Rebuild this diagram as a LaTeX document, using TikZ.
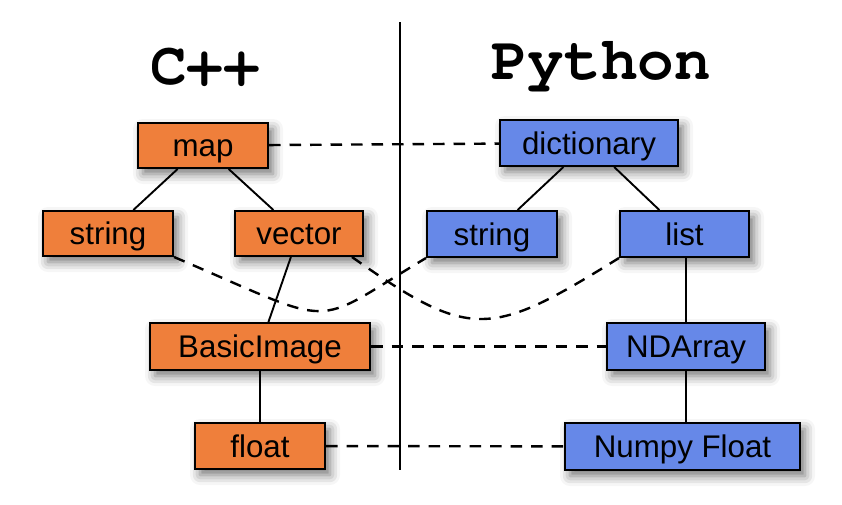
\documentclass[tikz,border=0pt]{standalone}
\usepackage{fontspec}
\setmainfont{Liberation Sans}
\newfontfamily\titlefont{TeX Gyre Cursor}
\usetikzlibrary{shadows.blur}
\definecolor{cppfill}{RGB}{239,127,59}
\definecolor{pyfill}{RGB}{102,136,232}
\tikzset{
  box/.style={draw=black, line width=2pt, inner sep=0pt,
    font=\fontsize{31.3}{36}\selectfont, text height=22.4pt, text depth=0pt,
    blur shadow={shadow xshift=5pt, shadow yshift=-6pt, shadow blur radius=10pt, shadow opacity=55}},
  cppbox/.style={box, fill=cppfill},
  pybox/.style={box, fill=pyfill},
  title/.style={font=\titlefont\bfseries\fontsize{61}{66}\selectfont, inner sep=0pt},
  link/.style={line width=1.9pt},
  corr/.style={line width=2.4pt, dash pattern=on 11.5pt off 9pt},
}
\begin{document}
\begin{tikzpicture}[x=1pt,y=-1pt]
\useasboundingbox (0,0) rectangle (842,504);
% titles
\node[title] (tcpp) at (205,67) {C++};
\node[title] (tpy) at (601,67) {Python};
% divider
\coordinate (vtop) at (400,22);
\coordinate (vbot) at (400,470);
\draw[line width=1.9pt] (vtop) -- (vbot);
% C++ nodes
\node[cppbox, minimum width=130pt, minimum height=45pt] (map) at (203,145.5) {map};
\node[cppbox, minimum width=130pt, minimum height=45pt] (strL) at (108,233.5) {string};
\node[cppbox, minimum width=128pt, minimum height=45pt] (vec) at (299,233.5) {vector};
\node[cppbox, minimum width=220pt, minimum height=47pt] (bimg) at (260,346.5) {BasicImage};
\node[cppbox, minimum width=130pt, minimum height=46pt] (flt) at (260,446) {float};
% Python nodes
\node[pybox, minimum width=178pt, minimum height=46pt] (dict) at (589,143) {dictionary};
\node[pybox, minimum width=130pt, minimum height=46pt] (strR) at (492,234) {string};
\node[pybox, minimum width=129pt, minimum height=46pt] (lst) at (684.5,234) {list};
\node[pybox, minimum width=158pt, minimum height=47pt] (nda) at (686,346.5) {NDArray};
\node[pybox, minimum width=235pt, minimum height=47pt] (npf) at (682.5,446.5) {Numpy Float};
% tree links
\draw[link] (map) -- (strL);
\draw[link] (map) -- (vec);
\draw[link] (vec) -- (bimg);
\draw[link] (bimg) -- (flt);
\draw[link] (dict) -- (strR);
\draw[link] (dict) -- (lst);
\draw[link] (lst.south -| nda.north) -- (nda.north);
\draw[link] (nda) -- (npf.north -| nda.south);
% correspondences
\draw[corr] (map) -- (dict);
\draw[corr] (bimg) -- (nda);
\draw[corr] (flt) -- (npf);
\draw[corr] (strL.south east) .. controls (343,329) and (307,329) .. (strR.south west);
\draw[corr] ([xshift=-12pt]vec.south east) .. controls (471,341) and (490,338) .. (lst.south west);
\end{tikzpicture}
\end{document}
